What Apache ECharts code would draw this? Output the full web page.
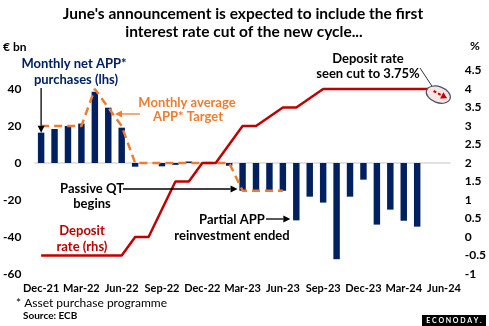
<!DOCTYPE html>
<html><head><meta charset="utf-8">
<script src="https://cdn.jsdelivr.net/npm/echarts@6/dist/echarts.min.js"></script>
<style>html,body{margin:0;padding:0;background:#fff}#c{width:489px;height:326px}</style>
</head><body><div id="c"></div>
<script>
var months = ['Dec-21','Jan-22','Feb-22','Mar-22','Apr-22','May-22','Jun-22','Jul-22','Aug-22','Sep-22','Oct-22','Nov-22','Dec-22','Jan-23','Feb-23','Mar-23','Apr-23','May-23','Jun-23','Jul-23','Aug-23','Sep-23','Oct-23','Nov-23','Dec-23','Jan-24','Feb-24','Mar-24','Apr-24','May-24','Jun-24'];
var netAPP = [16.4,18.4,20,21.3,38.5,29.9,19.1,-2,0,-1.8,-1,0.8,0,0,-1.5,-15,-15,-15,-15,-31,-18.2,-21.4,-52,-18.2,-9,-33.3,-25.2,-31.2,-34.4,null,null];
var appTarget = [20,20,20,20,40,30,20,0,0,0,0,0,0,0,0,-15,-15,-15,-15,null,null,null,null,null,null,null,null,null,null,null,null];
var depositRate = [-0.5,-0.5,-0.5,-0.5,-0.5,-0.5,-0.5,0,0,0.75,1.5,1.5,2,2,2.5,3,3,3.25,3.5,3.5,3.75,4,4,4,4,4,4,4,4,4,null];
var rateCut = {from:['May-24',4], to:['Jun-24',3.75]};
var leftTicks = [-60,-40,-20,0,20,40];

var FONT = 'Lato';
var NAVY = '#002060', ORANGE = '#ED7D31', RED = '#C00000';
var chart = echarts.init(document.getElementById('c'), null, {renderer:'canvas'});
var option = {
  animation:false,
  grid:{left:31, right:35.5, top:70.5, bottom:52, containLabel:false},
  xAxis:{type:'category', data:months, boundaryGap:true,
    axisLine:{show:false}, axisTick:{show:false},
    axisLabel:{interval:2, color:'#000', fontFamily:FONT, fontWeight:'bold', fontSize:11, margin:9}},
  yAxis:[
    {type:'value', min:-60, max:50, interval:10, splitLine:{show:false}, axisLine:{show:false}, axisTick:{show:false},
     axisLabel:{color:'#000', fontFamily:FONT, fontWeight:'bold', fontSize:12, margin:13,
       formatter:function(v){return leftTicks.indexOf(v)>=0? String(v):'';}}},
    {type:'value', min:-1, max:4.5, interval:0.5, position:'right', splitLine:{show:false}, axisLine:{show:false}, axisTick:{show:false},
     axisLabel:{color:'#000', fontFamily:FONT, fontWeight:'bold', fontSize:12, margin:14}}
  ],
  series:[
    {type:'bar', data:netAPP, yAxisIndex:0, barWidth:'48%', itemStyle:{color:NAVY}, z:2,
     markLine:{silent:true, symbol:['none','none'], label:{show:false}, lineStyle:{color:'#d9d9d9', width:1.5, type:'solid'},
       data:[{yAxis:0}], z:1}},
    {type:'line', data:appTarget, yAxisIndex:0, symbol:'none', z:3,
     lineStyle:{color:ORANGE, width:2.5, type:[8,5]}},
    {type:'line', data:depositRate, yAxisIndex:1, symbol:'none', z:4,
     lineStyle:{color:RED, width:2.5}}
  ]
};
chart.setOption(option);

function P(cat,val,ax){return chart.convertToPixel({xAxisIndex:0,yAxisIndex:ax||0},[cat,val]);}
function arrow(x1,y1,x2,y2,color,w,dash,hl,hw){
  hl=hl||7; hw=hw||3.5;
  var dx=x2-x1, dy=y2-y1, L=Math.sqrt(dx*dx+dy*dy), ux=dx/L, uy=dy/L;
  var bx=x2-ux*hl, by=y2-uy*hl;
  var st={stroke:color, lineWidth:w}; if(dash) st.lineDash=dash;
  return [
    {type:'line', shape:{x1:x1,y1:y1,x2:bx,y2:by}, style:st, z:40},
    {type:'polygon', shape:{points:[[x2,y2],[bx-uy*hw,by+ux*hw],[bx+uy*hw,by-ux*hw]]}, style:{fill:color}, z:40}
  ];
}
function txt(x,y,s,color,size,align,weight){
  return {type:'text', x:x, y:y, z:30, style:{text:s, fill:color, font:(weight||'bold')+' '+size+'px '+FONT, textAlign:align||'center', textVerticalAlign:'middle'}};
}
var g = [];
g.push(txt(243,14,"June's announcement is expected to include the first",'#000',15.5));
g.push(txt(244,32,'interest rate cut of the new cycle...','#000',15.5));
g.push(txt(3,47,'€ bn','#000',12,'left'));
g.push(txt(470,46,'%','#000',12,'left'));
g.push(txt(74,64,'Monthly net APP*',NAVY,13));
g.push(txt(76,80,'purchases (lhs)',NAVY,13));
g.push(txt(187,103,'Monthly average',ORANGE,13));
g.push(txt(188,117,'APP* Target',ORANGE,13));
g.push(txt(92,189,'Passive QT','#000',13));
g.push(txt(92,204,'begins','#000',13));
g.push(txt(82,231,'Deposit',RED,13));
g.push(txt(82,247,'rate (rhs)',RED,13));
g.push(txt(232,220,'Partial APP','#000',13));
g.push(txt(232,236,'reinvestment ended','#000',13));
g.push(txt(368,59,'Deposit rate','#000',13));
g.push(txt(368,74,'seen cut to 3.75%','#000',13));
g.push(txt(16,303,'* Asset purchase programme','#000',12,'left','normal'));
g.push(txt(23,316,'Source: ECB','#000',10,'left'));
// logo
g.push({type:'rect', shape:{x:422,y:315,width:64,height:11}, style:{fill:'#000'}, z:30});
g.push({type:'text', x:454, y:320.5, z:31, style:{text:'E C O N O D A Y .', fill:'#fff', font:'bold 7px '+FONT, textAlign:'center', textVerticalAlign:'middle'}});

var pDec = P('Dec-21',16.4);
g = g.concat(arrow(pDec[0],88,pDec[0],pDec[1],'#000',1.3));
g = g.concat(arrow(140,114,115,114,ORANGE,1.3));
var pMar = P('Mar-23',-15);
g = g.concat(arrow(123,189,pMar[0]-5,189,'#000',1.3));
var pJul = P('Jul-23',-15);
g = g.concat(arrow(266,219,pJul[0]-6,219,'#000',1.3));
var a = P(rateCut.from[0],rateCut.from[1],1), b = P(rateCut.to[0],rateCut.to[1],1);
var cx=(a[0]+b[0])/2+1, cy=(a[1]+b[1])/2+1;
g.push({type:'line', shape:{x1:420,y1:68,x2:cx-6,y2:cy-8}, style:{stroke:'#000',lineWidth:0.8}, z:20});
g.push({type:'ellipse', x:cx, y:cy, rotation:-0.35, shape:{cx:0,cy:0,rx:12.5,ry:8}, style:{fill:'#FBE4E4', stroke:'#44546A', lineWidth:1.2}, z:25});
g = g.concat(arrow(a[0]+3,a[1]+2,b[0]+3,b[1],RED,2,[3,2],6,3.5));
chart.setOption({graphic:g});
</script></body></html>
